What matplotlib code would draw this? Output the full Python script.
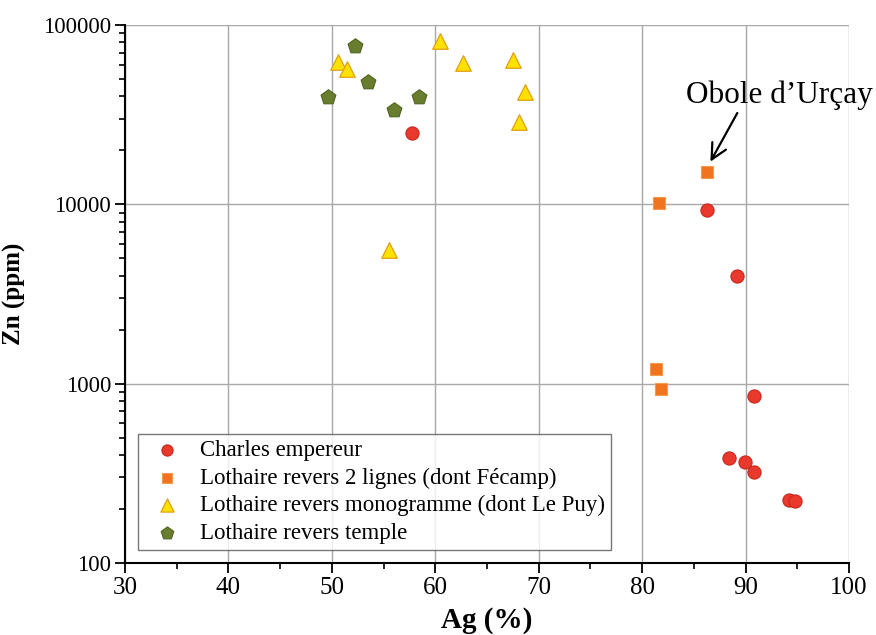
import numpy as np
import matplotlib.pyplot as plt
from matplotlib.ticker import LogLocator, MultipleLocator, NullFormatter

plt.rcParams['font.family'] = ['Liberation Serif', 'DejaVu Serif']

# Charles empereur
charles_ag = [57.7, 86.3, 89.2, 90.8, 88.4, 89.9, 90.8, 94.2, 94.8]
charles_zn = [25000, 9300, 3980, 850, 385, 366, 321, 224, 221]

# Lothaire revers 2 lignes
deux_lignes_ag = [86.3, 81.6, 81.3, 81.8]
deux_lignes_zn = [15100, 10150, 1206, 932]

# Lothaire revers monogramme
monogramme_ag = [50.6, 51.5, 60.5, 62.7, 67.5, 68.7, 68.1, 55.5]
monogramme_zn = [62200, 56900, 81500, 61400, 63800, 42300, 28800, 5560]

# Lothaire revers temple
temple_ag = [52.2, 49.6, 53.5, 56.0, 58.4]
temple_zn = [76400, 39700, 48100, 33600, 39700]

fig = plt.figure(figsize=(8.76, 6.35), dpi=100)
ax = fig.add_axes([0.1427, 0.1134, 0.8265, 0.8472])

ax.scatter(charles_ag, charles_zn, marker='o', s=90, color='#e8392c',
           edgecolors='#c8281e', linewidths=0.8, zorder=3,
           label='Charles empereur')
ax.scatter(deux_lignes_ag, deux_lignes_zn, marker='s', s=78, color='#f0731e',
           edgecolors='#f59a50', linewidths=0.8, zorder=3,
           label='Lothaire revers 2 lignes (dont Fécamp)')
ax.scatter(monogramme_ag, monogramme_zn, marker='^', s=125, color='#ffe100',
           edgecolors='#e0a010', linewidths=0.9, zorder=3,
           label='Lothaire revers monogramme (dont Le Puy)')
ax.scatter(temple_ag, temple_zn, marker='p', s=125, color='#687d2e',
           edgecolors='#4f6420', linewidths=0.8, zorder=3,
           label='Lothaire revers temple')

ax.set_yscale('log')
ax.set_xlim(30, 100)
ax.set_ylim(100, 100000)
ax.xaxis.set_major_locator(MultipleLocator(10))
ax.xaxis.set_minor_locator(MultipleLocator(5))
ax.yaxis.set_minor_locator(LogLocator(base=10, subs=np.arange(2, 10)))
ax.yaxis.set_minor_formatter(NullFormatter())
ax.set_yticks([100, 1000, 10000, 100000])
ax.set_yticklabels(['100', '1000', '10000', '100000'])

ax.grid(True, which='major', color='#a8a8a8', linewidth=1.0)
ax.set_axisbelow(True)
for side in ('top', 'right'):
    ax.spines[side].set_visible(False)
for side in ('left', 'bottom'):
    ax.spines[side].set_linewidth(1.5)

ax.tick_params(which='major', direction='out', length=7, width=1.3)
ax.tick_params(which='minor', direction='out', length=4, width=1.2)
ax.tick_params(axis='x', which='major', labelsize=18, pad=3)
ax.tick_params(axis='y', which='major', labelsize=16.5, pad=3)

ax.set_xlabel('Ag (%)', fontsize=21, fontweight='bold', labelpad=6)
ax.set_ylabel('Zn (ppm)', fontsize=18, fontweight='bold', labelpad=12)

ax.text(84.2, 40700, 'Obole d\u2019Ur\u00e7ay', fontsize=22.5,
        ha='left', va='center')
ax.annotate('', xy=(86.6, 17300), xytext=(89.2, 32300),
            arrowprops=dict(arrowstyle='->', color='black', lw=1.6,
                            mutation_scale=28, shrinkA=0, shrinkB=0))

leg = ax.legend(loc='lower left', bbox_to_anchor=(0.018, 0.025), fontsize=16.5,
                frameon=True, fancybox=False, edgecolor='#555555',
                borderpad=0.25, labelspacing=0.28, handletextpad=0.45,
                handlelength=2.0, borderaxespad=0, markerscale=0.85)
leg.get_frame().set_linewidth(1.0)

fig.savefig('out.png', dpi=100)
